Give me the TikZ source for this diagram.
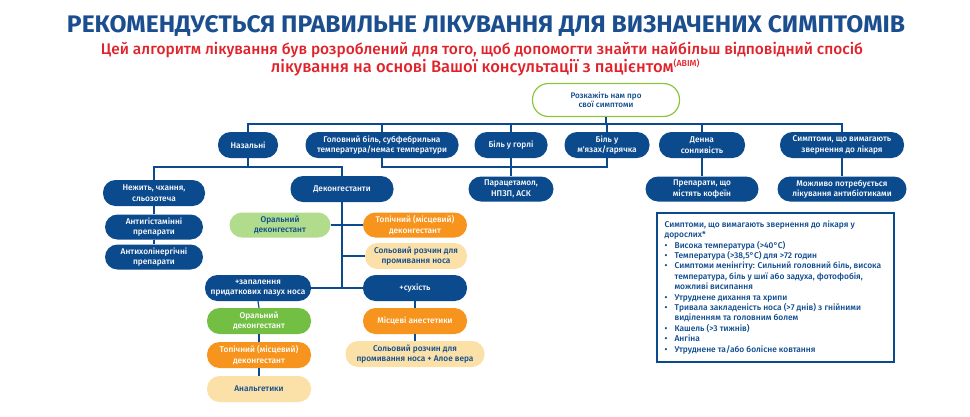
\documentclass[tikz,border=0pt]{standalone}
\usepackage{fontspec}
\setmainfont{Fira Sans}
\newfontfamily\medfont{Fira Sans Medium}
\usetikzlibrary{calc}
\definecolor{nblue}{HTML}{0C4A8E}
\definecolor{tblue}{HTML}{1B4E8E}
\definecolor{sred}{HTML}{E0232B}
\definecolor{norange}{HTML}{F7941D}
\definecolor{nlgreen}{HTML}{B0DC8C}
\definecolor{ngreen}{HTML}{72BF44}
\definecolor{nbeige}{HTML}{FBE0A8}
\definecolor{rgreen}{HTML}{8CC63F}
\tikzset{
  pill/.style={rectangle, rounded corners=12.5pt, minimum height=26pt, inner sep=0pt,
    align=center, font=\medfont\fontsize{8.3}{10.4}\selectfont},
  bluebox/.style={pill, fill=nblue, text=white},
  orangebox/.style={pill, fill=norange, text=white},
  lgreenbox/.style={pill, fill=nlgreen, text=nblue},
  greenbox/.style={pill, fill=ngreen, text=white},
  beigebox/.style={pill, fill=nbeige, text=nblue},
  link/.style={draw=nblue, line width=1.2pt},
}
\begin{document}
\begin{tikzpicture}[x=1pt,y=-1pt]
\useasboundingbox (0,0) rectangle (970,416);
% titles
\node[anchor=base, text=tblue, inner sep=0pt] (title) at (486,32.5)
  {\resizebox{838pt}{17pt}{\bfseries РЕКОМЕНДУЄТЬСЯ ПРАВИЛЬНЕ ЛІКУВАННЯ ДЛЯ ВИЗНАЧЕНИХ СИМПТОМІВ}};
\node[anchor=base, text=sred, inner sep=0pt] (sub1) at (482,54)
  {\resizebox{762pt}{!}{\medfont\fontsize{15}{18}\selectfont Цей алгоритм лікування був розроблений для того, щоб допомогти знайти найбільш відповідний спосіб}};
\node[anchor=base, text=sred, inner sep=0pt] (sub2) at (485.5,72)
  {\resizebox{429pt}{!}{\medfont\fontsize{15}{18}\selectfont лікування на основі Вашої консультації з пацієнтом\textsuperscript{\fontsize{8}{8}\selectfont(ABIM)}}};
% root
\node[pill, draw=rgreen, line width=1.2pt, fill=white, text=nblue, minimum width=147pt, minimum height=33pt,
  rounded corners=16pt, font=\medfont\fontsize{8.1}{9.2}\selectfont] (root) at (606,100)
  {Розкажіть нам про\\свої симптоми};
% level 1
\node[bluebox, minimum width=60pt] (n1) at (248,145) {Назальні};
\node[bluebox, minimum width=153pt] (n2) at (382,145) {Головний біль, субфебрильна\\температура/немає температури};
\node[bluebox, minimum width=73pt] (n3) at (511,145) {Біль у горлі};
\node[bluebox, minimum width=85pt] (n4) at (607,145) {Біль у\\м'язах/гарячка};
\node[bluebox, minimum width=86pt] (n5) at (702,145) {Денна\\сонливість};
\node[bluebox, minimum width=124pt] (n6) at (842,145) {Симптоми, що вимагають\\звернення до лікаря};
% level 2
\node[bluebox, minimum width=102pt] (nez) at (154,193) {Нежить, чхання,\\сльозотеча};
\node[bluebox, minimum width=98pt, minimum height=25pt] (ah) at (154,227) {Антигістамінні\\препарати};
\node[bluebox, minimum width=98pt, minimum height=25pt] (ach) at (154,257) {Антихолінергічні\\препарати};
\node[bluebox, minimum width=103pt] (dec) at (342,189) {Деконгестанти};
\node[bluebox, minimum width=85pt, minimum height=25pt] (para) at (511,189) {Парацетамол,\\НПЗП, АСК};
\node[bluebox, minimum width=113pt, minimum height=25pt] (caf) at (702,189) {Препарати, що\\містять кофеїн};
\node[bluebox, minimum width=129pt, minimum height=25pt] (abx) at (842,189) {Можливо потребується\\лікування антибіотиками};
% decongestant subtree
\node[lgreenbox, minimum width=101pt, minimum height=25pt] (oral1) at (280,225) {Оральний\\деконгестант};
\node[orangebox, minimum width=104pt, minimum height=25pt] (top1) at (415,225) {Топічний (місцевий)\\деконгестант};
\node[beigebox, minimum width=102pt] (sal1) at (416,256) {Сольовий розчин для\\промивання носа};
\node[bluebox, minimum width=106pt] (sin) at (258,288) {+запалення\\придаткових пазух носа};
\node[bluebox, minimum width=104pt] (dry) at (415,288) {+сухість};
\node[greenbox, minimum width=104pt] (oral2) at (259,321) {Оральний\\деконгестант};
\node[orangebox, minimum width=104pt] (top2) at (259,355) {Топічний (місцевий)\\деконгестант};
\node[beigebox, minimum width=104pt] (anal) at (259,389) {Анальгетики};
\node[orangebox, minimum width=104pt] (loc) at (415,321) {Місцеві анестетики};
\node[beigebox, minimum width=139pt] (sal2) at (415,354) {Сольовий розчин для\\промивання носа + Алое вера};
% connectors
\coordinate (bt) at (0,124);
\coordinate (lb) at (0,167);
\draw[link] (n1.north) |- (n6.north |- bt) -- (n6.north);
\draw[link] (root.south) -- (root.south |- bt);
\foreach \n in {n2,n3,n4,n5} \draw[link] (\n.north) -- (\n.north |- bt);
\draw[link] (n2.south) |- (n4.south |- lb) -- (n4.south);
\draw[link] (n3.south) -- (para.north);
\draw[link] (n1.south) -- (n1.south |- lb);
\draw[link] (nez.north) |- (dec.north |- lb) -- (dec.north);
\draw[link] (n5.south) -- (caf.north);
\draw[link] (n6.south) -- (abx.north);
\draw[link] (nez.south) -- (ah.north);
\draw[link] (ah.south) -- (ach.north);
\draw[link] (dec.south) -- (dec.south |- sin.east);
\draw[link] (oral1.east) -- (top1.west);
\draw[link] (dec.south |- sal1.west) -- (sal1.west);
\draw[link] (sin.east) -- (dry.west);
\draw[link] (sin.south) -- (oral2.north);
\draw[link] (oral2.south) -- (top2.north);
\draw[link] (top2.south) -- (anal.north);
\draw[link] (dry.south) -- (loc.north);
\draw[link] (loc.south) -- (sal2.north);
% info box
\node[draw=nblue, line width=1.2pt, fill=white, minimum width=237pt, minimum height=149pt, inner sep=0pt] (info) at (775.5,287.5) {};
\node[anchor=north west, inner sep=0pt, text=nblue, align=left,
  font=\medfont\fontsize{8.4}{10.4}\selectfont] (infotext) at ($(info.north west)+(8,8)$)
{Симптоми, що вимагають звернення до лікаря у\\
дорослих*\\
\makebox[10pt][l]{•}Висока температура (>40°С)\\
\makebox[10pt][l]{•}Температура (>38,5°С) для >72 годин\\
\makebox[10pt][l]{•}Симптоми менінгіту: Сильний головний біль, висока\\
\hspace*{10pt}температура, біль у шиї або задуха, фотофобія,\\
\hspace*{10pt}можливі висипання\\
\makebox[10pt][l]{•}Утруднене дихання та хрипи\\
\makebox[10pt][l]{•}Тривала закладеність носа (>7 днів) з гнійними\\
\hspace*{10pt}виділенням та головним болем\\
\makebox[10pt][l]{•}Кашель (>3 тижнів)\\
\makebox[10pt][l]{•}Ангіна\\
\makebox[10pt][l]{•}Утруднене та/або болісне ковтання};
\end{tikzpicture}
\end{document}
